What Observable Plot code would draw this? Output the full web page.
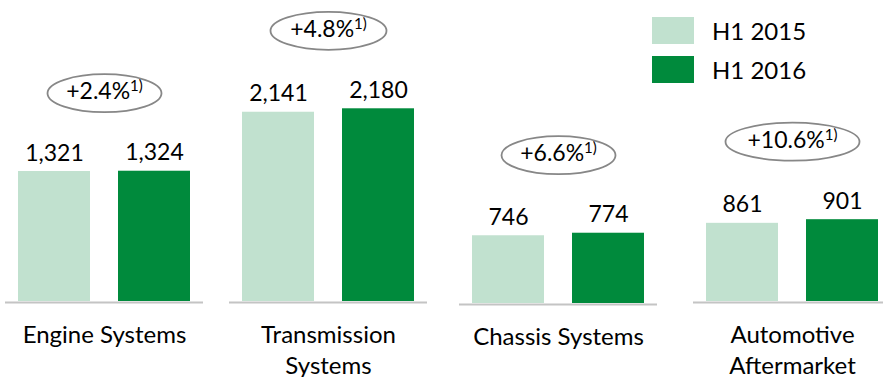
<!DOCTYPE html>
<html>
<head>
<meta charset="utf-8">
<script src="https://cdn.jsdelivr.net/npm/d3@7"></script>
<script src="https://cdn.jsdelivr.net/npm/@observablehq/plot@0.6"></script>
<style>
  html, body { margin: 0; padding: 0; background: #fff; }
  #chart { position: relative; width: 883px; height: 377px; overflow: hidden; font-family: Lato, sans-serif; color: #000; }
  #chart svg { position: absolute; overflow: visible; }
  .key { position: absolute; left: 652px; display: flex; align-items: center; font-size: 24px; }
  .key span.sw { width: 42px; height: 27px; margin-right: 18px; display: inline-block; }
</style>
</head>
<body>
<div id="chart"></div>
<script>
// Sales by division, EUR million
const segments = ["Engine Systems", "Transmission\nSystems", "Chassis Systems", "Automotive\nAftermarket"];
const periods = ["H1 2015", "H1 2016"];
const sales2015 = [1321, 2141, 746, 861];
const sales2016 = [1324, 2180, 774, 901];
const growth = [2.4, 4.8, 6.6, 10.6];   // adjusted growth, %
const footnote = "1)";

const colors = ["#c1e1cf", "#008a3c"];

// Panel placement and per-panel value scale
const panelLeft = [5, 229, 459, 693];
const panelTop = [0, 0, 2, 0];
const panelYMax = [3059, 3405, 3315, 3315];
const ovalRx = [57, 58, 57, 67];

const chart = document.getElementById("chart");
const fmt = d3.format(",");

// Ellipse outline usable as a dot symbol
const ellipse = (rx, ry) => ({
  draw(ctx) {
    const k = 0.5523;
    ctx.moveTo(rx, 0);
    ctx.bezierCurveTo(rx, ry * k, rx * k, ry, 0, ry);
    ctx.bezierCurveTo(-rx * k, ry, -rx, ry * k, -rx, 0);
    ctx.bezierCurveTo(-rx, -ry * k, -rx * k, -ry, 0, -ry);
    ctx.bezierCurveTo(rx * k, -ry, rx, -ry * k, rx, 0);
    ctx.closePath();
  }
});

segments.forEach((segment, i) => {
  const rows = [
    {period: periods[0], value: sales2015[i]},
    {period: periods[1], value: sales2016[i]}
  ];
  const top = d3.max(rows, d => d.value);
  const svg = Plot.plot({
    width: 198,
    height: 377,
    marginTop: 0,
    marginBottom: 76,
    marginLeft: 0,
    marginRight: 0,
    style: {fontFamily: "Lato, sans-serif", background: "transparent", overflow: "visible"},
    x: {domain: periods, paddingInner: 0.28, paddingOuter: 0.13, round: false, axis: null},
    y: {domain: [0, panelYMax[i]], axis: null},
    color: {domain: periods, range: colors},
    marks: [
      Plot.barY(rows, {x: "period", y: "value", fill: "period"}),
      Plot.ruleY([0], {stroke: "#c4c4c4", strokeWidth: 2, dy: 1}),
      Plot.text(rows, {
        x: "period", y: "value", text: d => fmt(d.value),
        lineAnchor: "bottom", dy: -11, fontSize: 23, fill: "#000"
      }),
      Plot.dot([top], {
        y: d => d, r: 1, symbol: ellipse(ovalRx[i], 19),
        fill: "none", stroke: "#878787", strokeWidth: 1.8, dy: -78
      }),
      Plot.text([growth[i]], {
        y: () => top, text: d => `+${d.toFixed(1)}%`,
        fontSize: 23, fill: "#000", dy: -79.5,
        render(index, scales, values, dimensions, context, next) {
          const g = next(index, scales, values, dimensions, context);
          d3.select(g).selectAll("text").append("tspan")
            .attr("dy", -8).attr("font-size", 15).text(footnote);
          return g;
        }
      }),
      Plot.text([segment], {
        text: d => d, frameAnchor: "bottom", lineAnchor: "top",
        dy: 19, fontSize: 24, lineHeight: 1.3, fill: "#000"
      })
    ]
  });
  svg.style.left = panelLeft[i] + "px";
  svg.style.top = panelTop[i] + "px";
  chart.appendChild(svg);
});

// Legend
periods.forEach((p, j) => {
  const row = document.createElement("div");
  row.className = "key";
  row.style.top = (16 + j * 39) + "px";
  row.innerHTML = `<span class="sw" style="background:${colors[j]}"></span><span>${p}</span>`;
  chart.appendChild(row);
});
</script>
</body>
</html>
